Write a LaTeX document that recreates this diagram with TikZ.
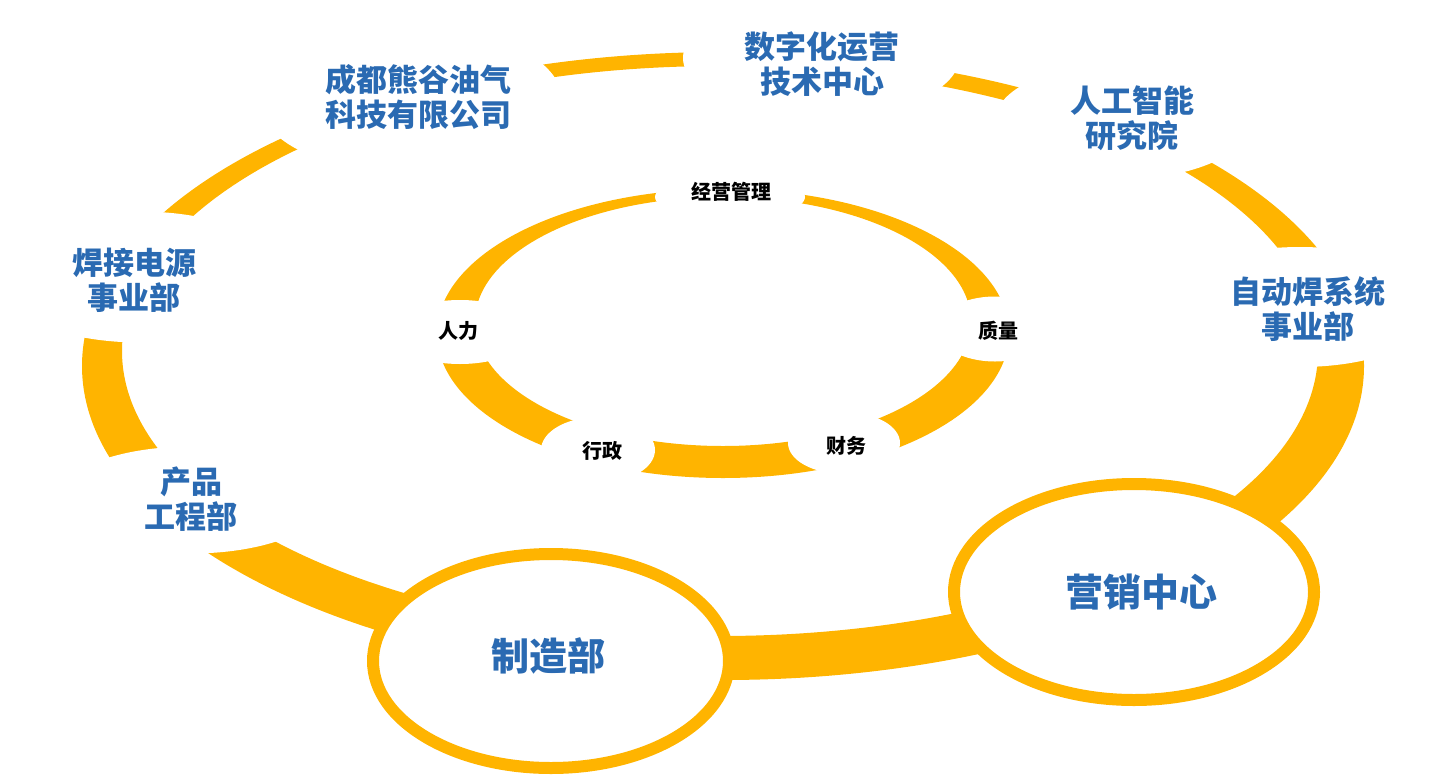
\documentclass[tikz,border=0pt]{standalone}
\usepackage{fontspec}
\setmainfont{Noto Sans CJK SC}
\definecolor{gold}{HTML}{FFB400}
\definecolor{deptblue}{HTML}{2A6AB2}
\tikzset{
  outerlbl/.style={text=deptblue, font=\fontsize{31}{35}\selectfont\bfseries, align=center, inner sep=0pt},
  innerlbl/.style={text=black, font=\fontsize{20}{22}\selectfont\bfseries, inner sep=0pt},
  hublbl/.style={text=deptblue, font=\fontsize{38}{42}\selectfont\bfseries, inner sep=0pt},
  hub/.style={draw=gold, line width=12pt, fill=white},
  gap/.style={fill=white}
}
\begin{document}
\begin{tikzpicture}[x=1pt,y=-1pt]
\useasboundingbox (0,0) rectangle (1439,776);
% outer ring
\fill[gold, even odd rule] (723,366) ellipse [x radius=641, y radius=314]
                           (720,351) ellipse [x radius=598, y radius=285];
% inner ring
\fill[gold, even odd rule] (723,333.5) ellipse [x radius=286, y radius=144.5]
                           (723,321.5) ellipse [x radius=248, y radius=124.5];
% gaps of the outer ring
\fill[gap] (410,100) ellipse [x radius=152, y radius=73.5];
\fill[gap] (821,58) ellipse [x radius=138, y radius=59];
\fill[gap] (1123,121) ellipse [x radius=128, y radius=58];
\fill[gap] (1300,307) ellipse [x radius=140, y radius=60];
\fill[gap] (140,277) ellipse [x radius=147, y radius=65.5];
\fill[gap] (191,500) ellipse [x radius=135, y radius=53.5];
% gaps of the inner ring
\fill[gap] (730,197) ellipse [x radius=75, y radius=22];
\fill[gap] (460,332) ellipse [x radius=70, y radius=32];
\fill[gap] (995,329) ellipse [x radius=58, y radius=32.5];
\fill[gap] (598,450) ellipse [x radius=57, y radius=33];
\fill[gap] (844,443) ellipse [x radius=56, y radius=31];
% outer labels
\node[outerlbl] (chengdu) at (418,97) {成都熊谷油气\\科技有限公司};
\node[outerlbl] (shuzi) at (822,64) {数字化运营\\技术中心};
\node[outerlbl] (rengong) at (1132,118) {人工智能\\研究院};
\node[outerlbl] (zidong) at (1308,309) {自动焊系统\\事业部};
\node[outerlbl] (hanjie) at (134,280) {焊接电源\\事业部};
\node[outerlbl] (chanpin) at (191,499) {产品\\工程部};
% inner labels
\node[innerlbl] (jingying) at (731,192) {经营管理};
\node[innerlbl] (renli) at (458,331) {人力};
\node[innerlbl] (zhiliang) at (998,331) {质量};
\node[innerlbl] (xingzheng) at (602,451) {行政};
\node[innerlbl] (caiwu) at (846,446) {财务};
% hubs
\draw[hub] (551,661) ellipse [x radius=178, y radius=107];
\draw[hub] (1134,592) ellipse [x radius=180, y radius=108];
\node[hublbl] (zhizao) at (548,656) {制造部};
\node[hublbl] (yingxiao) at (1141,592) {营销中心};
\end{tikzpicture}
\end{document}
